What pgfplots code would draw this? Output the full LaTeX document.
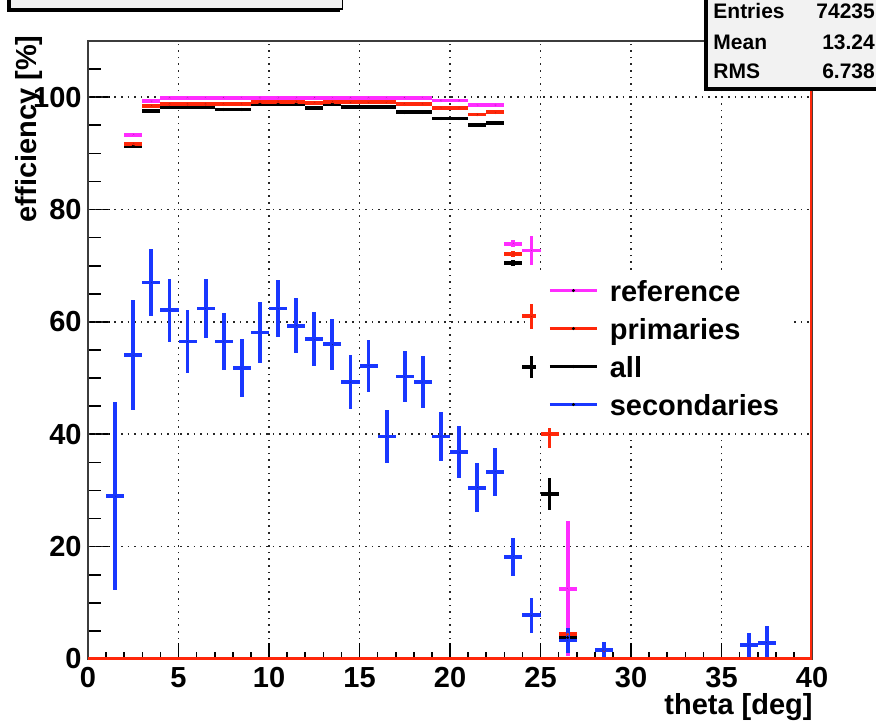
\documentclass[border=0pt]{standalone}
\usepackage{fontspec}
\setmainfont{Liberation Sans}
\usepackage{pgfplots}
\usepackage{pgfplotstable}
\pgfplotsset{compat=1.18}

\definecolor{refcol}{RGB}{255,45,255}
\definecolor{primcol}{RGB}{255,40,10}
\definecolor{seccol}{RGB}{25,55,255}
\definecolor{boxfill}{RGB}{242,242,242}
\definecolor{framecol}{RGB}{60,60,60}

\newcommand\labfont{\fontsize{14.5}{17}\selectfont\bfseries}
\newcommand\statfont{\fontsize{10.5}{12.5}\selectfont\bfseries}

% efficiency [%] per 1-degree theta bin; ey = statistical error
\pgfplotstableread{
x     y      ey
2.5   93.3   0.4
3.5   99.3   0.2
4.5   99.9   0.1
5.5   99.9   0.1
6.5   99.9   0.1
7.5   99.9   0.1
8.5   99.9   0.1
9.5   99.9   0.1
10.5  99.9   0.1
11.5  99.9   0.1
12.5  99.9   0.1
13.5  99.9   0.1
14.5  99.9   0.1
15.5  99.9   0.1
16.5  99.9   0.1
17.5  99.9   0.1
18.5  99.9   0.1
19.5  99.4   0.2
20.5  99.4   0.2
21.5  98.6   0.3
22.5  98.6   0.3
23.5  73.9   0.6
24.5  72.7   2.6
26.5  12.5  12.0
}\refdata

\pgfplotstableread{
x     y      ey
2.5   91.7   0.4
3.5   98.5   0.2
4.5   98.8   0.2
5.5   98.8   0.2
6.5   98.8   0.2
7.5   98.8   0.2
8.5   98.8   0.2
9.5   99.2   0.2
10.5  99.2   0.2
11.5  99.2   0.2
12.5  99.0   0.2
13.5  99.2   0.2
14.5  99.1   0.2
15.5  99.1   0.2
16.5  99.1   0.2
17.5  98.8   0.2
18.5  98.8   0.2
19.5  98.1   0.2
20.5  98.1   0.2
21.5  96.9   0.3
22.5  97.3   0.3
23.5  72.1   0.6
24.5  61.0   2.2
25.5  40.0   2.4
26.5   4.4   0.6
28.5   1.5   0.4
}\primdata

\pgfplotstableread{
x     y      ey
2.5   91.3   0.4
3.5   97.5   0.2
4.5   98.2   0.2
5.5   98.2   0.2
6.5   98.2   0.2
7.5   97.8   0.2
8.5   97.8   0.2
9.5   98.8   0.2
10.5  98.8   0.2
11.5  98.8   0.2
12.5  98.1   0.2
13.5  98.8   0.2
14.5  98.2   0.2
15.5  98.2   0.2
16.5  98.2   0.2
17.5  97.3   0.2
18.5  97.3   0.2
19.5  96.2   0.2
20.5  96.2   0.2
21.5  95.0   0.3
22.5  95.4   0.3
23.5  70.5   0.6
24.5  52.0   2.0
25.5  29.4   2.8
26.5   3.8   0.6
28.5   1.5   0.4
}\alldata

\pgfplotstableread{
x     y      ey
1.5   29.0  16.8
2.5   54.1   9.8
3.5   67.0   6.0
4.5   62.1   5.6
5.5   56.5   5.6
6.5   62.4   5.2
7.5   56.5   5.0
8.5   51.8   5.2
9.5   58.1   5.4
10.5  62.4   5.0
11.5  59.3   4.9
12.5  56.9   4.8
13.5  56.0   4.6
14.5  49.3   4.8
15.5  52.2   4.6
16.5  39.6   4.8
17.5  50.3   4.5
18.5  49.3   4.6
19.5  39.6   4.3
20.5  36.8   4.6
21.5  30.5   4.4
22.5  33.3   4.2
23.5  18.2   3.4
24.5   7.8   3.1
26.5   3.3   2.2
28.5   1.6   1.5
36.5   2.5   2.2
37.5   2.9   2.9
}\secdata

\pgfplotsset{
  binerr/.style={only marks, mark=*, mark size=0.55pt,
    mark options={draw=none, fill=black},
    /pgfplots/error bars/x dir=both,
    /pgfplots/error bars/x fixed=0.5,
    /pgfplots/error bars/y dir=both,
    /pgfplots/error bars/y explicit,
    /pgfplots/error bars/error mark=none,
    /pgfplots/error bars/error bar style={line width=1.9pt}},
  rootleg/.style={legend image code/.code={
    \draw[##1, line width=1.9pt] (0pt,5.5pt) -- (23.5pt,5.5pt);
    \fill[black] (11.75pt,5.5pt) circle (0.55pt);}},
}

\begin{document}
\begin{tikzpicture}
\useasboundingbox (0pt,0pt) rectangle (438pt,361pt);
\clip (0pt,0pt) rectangle (438pt,361pt);

% y axis ticks (longer than the x ticks) and their labels, drawn underneath
\begin{axis}[
  at={(44pt,31.5pt)}, anchor=south west,
  scale only axis, width=362pt, height=309pt,
  xmin=0, xmax=40, ymin=0, ymax=110,
  hide x axis, axis line style={draw=none},
  ytick={0,20,...,100}, minor ytick={5,10,...,105},
  ytick pos=left, tick align=inside,
  major tick length=11pt, minor tick length=6.5pt,
  tick style={black, line width=0.8pt},
  yticklabel style={font=\labfont, inner sep=0pt, xshift=-3pt},
  /pgf/number format/assume math mode=true,
]
\end{axis}

\begin{axis}[
  at={(44pt,31.5pt)}, anchor=south west,
  scale only axis, width=362pt, height=309pt,
  xmin=0, xmax=40, ymin=0, ymax=110,
  xtick={0,5,...,40}, minor xtick={0,1,...,40},
  ytick={0,20,...,100}, ytick style={draw=none},
  yticklabels={,,,,,},
  xtick pos=left, ytick pos=left,
  tick align=inside,
  major tick length=8pt, minor tick length=3.7pt,
  tick style={black, line width=0.8pt},
  grid=major,
  major grid style={black!85, line width=0.8pt, dash pattern=on 0.8pt off 2.5pt},
  axis line style={framecol, line width=1pt},
  xticklabel style={font=\labfont, inner sep=0pt, yshift=-4pt},
  /pgf/number format/assume math mode=true,
  legend style={at={(axis cs:24.73,68.5)}, anchor=north west,
    draw=none, fill=white, font=\labfont,
    inner xsep=6pt, inner ysep=3pt, row sep=5.3pt,
    nodes={inner sep=0pt, text height=10.5pt, text depth=3.2pt, anchor=base west},
    /tikz/every odd column/.append style={column sep=5.5pt}},
  legend cell align=left,
]
\addplot[forget plot, black,   binerr] table[x=x, y=y, y error=ey] {\alldata};
\addplot[forget plot, primcol, binerr] table[x=x, y=y, y error=ey] {\primdata};
\addplot[forget plot, refcol,  binerr] table[x=x, y=y, y error=ey] {\refdata};
\addplot[forget plot, seccol,  binerr] table[x=x, y=y, y error=ey] {\secdata};
% histogram outline along the empty bins and the upper edge
\addplot[forget plot, primcol, line width=2pt] coordinates {(0,0) (40,0) (40,110)};

\addlegendimage{refcol, rootleg}   \addlegendentry{reference}
\addlegendimage{primcol, rootleg}  \addlegendentry{primaries}
\addlegendimage{black, rootleg}    \addlegendentry{all}
\addlegendimage{seccol, rootleg}   \addlegendentry{secondaries}
\end{axis}

% axis titles
\node[rotate=90, anchor=base east, inner sep=0pt, font=\labfont] at (18.3pt,343.5pt) {efficiency [\%]};
\node[anchor=base east, inner sep=0pt, font=\labfont] at (406.5pt,4pt) {theta [deg]};

% title pave
\fill[black] (3.5pt,355pt) rectangle (170pt,372pt);
\draw[black, line width=0.6pt, fill=boxfill] (5pt,356.5pt) rectangle (171.3pt,372pt);

% statistics pave
\fill[black] (352pt,315.5pt) rectangle (460pt,372pt);
\draw[black, line width=0.6pt, fill=boxfill] (353.5pt,317pt) rectangle (460pt,372pt);
\node[anchor=base west, inner sep=0pt, font=\statfont] at (356.5pt,351.8pt) {Entries};
\node[anchor=base east, inner sep=0pt, font=\statfont] at (437.6pt,351.8pt) {74235};
\node[anchor=base west, inner sep=0pt, font=\statfont] at (356.5pt,336pt) {Mean};
\node[anchor=base east, inner sep=0pt, font=\statfont] at (437.6pt,336pt) {13.24};
\node[anchor=base west, inner sep=0pt, font=\statfont] at (356.5pt,321.5pt) {RMS};
\node[anchor=base east, inner sep=0pt, font=\statfont] at (437.6pt,321.5pt) {6.738};
\end{tikzpicture}
\end{document}
